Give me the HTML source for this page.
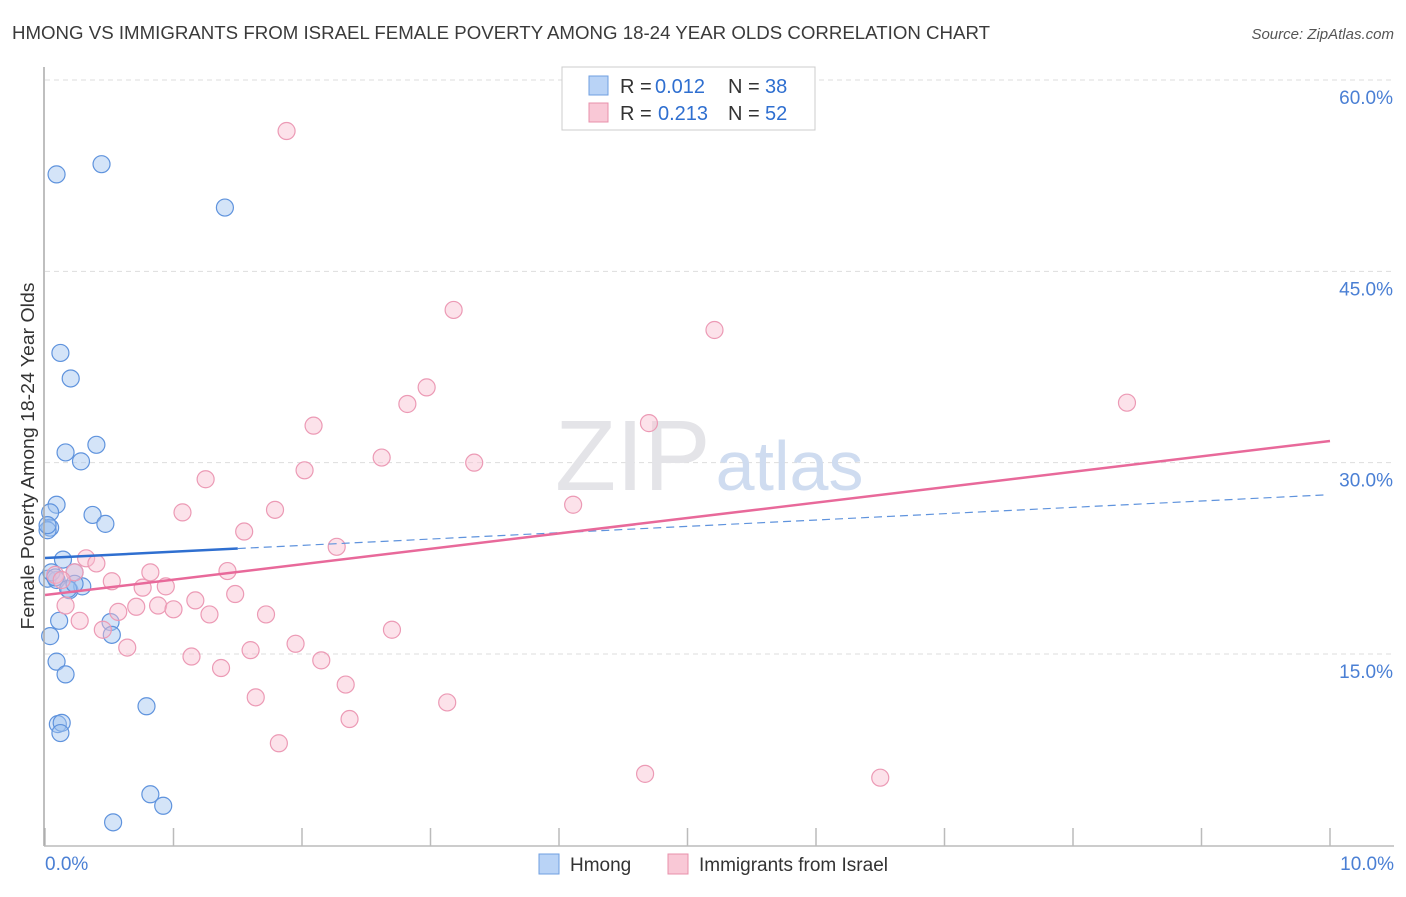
<!DOCTYPE html>
<html><head><meta charset="utf-8"><style>
body{margin:0;background:#fff;font-family:"Liberation Sans",sans-serif}
svg text{font-family:"Liberation Sans",sans-serif}
</style></head><body>
<svg id="chart" width="1406" height="892">
<text x="12" y="39" font-size="18" fill="#3a3a3a" textLength="978" lengthAdjust="spacingAndGlyphs">HMONG VS IMMIGRANTS FROM ISRAEL FEMALE POVERTY AMONG 18-24 YEAR OLDS CORRELATION CHART</text>
<text x="1394" y="39" font-size="15" fill="#555" font-style="italic" text-anchor="end">Source: ZipAtlas.com</text>
<g id="grid"></g>
<text x="555" y="490" font-size="100" fill="#e4e4e8" font-family="Liberation Serif">ZIP<tspan fill="#cfdcf0" font-family="Liberation Sans" font-size="70" dx="5">atlas</tspan></text>
<g id="marks"></g>
<line x1="44" y1="67" x2="44" y2="846" stroke="#aaa" stroke-width="1.5"/>
<line x1="44" y1="846" x2="1394" y2="846" stroke="#bbb" stroke-width="1.5"/>
<text transform="translate(34,456) rotate(-90)" font-size="18" fill="#333" text-anchor="middle" textLength="347" lengthAdjust="spacingAndGlyphs">Female Poverty Among 18-24 Year Olds</text>
<text x="45" y="870" font-size="19" fill="#4a7fd4">0.0%</text>
<text x="1394" y="870" font-size="19" fill="#4a7fd4" text-anchor="end">10.0%</text>
<g>
<rect x="562" y="67" width="253" height="63" fill="#fff" stroke="#ccc"/>
<rect x="589" y="76" width="19" height="19" fill="#b9d3f6" stroke="#6f9fe0"/>
<rect x="589" y="103" width="19" height="19" fill="#f9c8d6" stroke="#e890ab"/>
<text x="620" y="93" font-size="20" fill="#333">R =</text>
<text x="655" y="93" font-size="20" fill="#2f6fd0">0.012</text>
<text x="728" y="93" font-size="20" fill="#333">N =</text>
<text x="765" y="93" font-size="20" fill="#2f6fd0">38</text>
<text x="620" y="120" font-size="20" fill="#333">R =</text>
<text x="658" y="120" font-size="20" fill="#2f6fd0">0.213</text>
<text x="728" y="120" font-size="20" fill="#333">N =</text>
<text x="765" y="120" font-size="20" fill="#2f6fd0">52</text>
</g>
<g>
<rect x="539" y="854" width="20" height="20" fill="#b9d3f6" stroke="#6f9fe0"/>
<text x="570" y="871" font-size="19" fill="#333">Hmong</text>
<rect x="668" y="854" width="20" height="20" fill="#f9c8d6" stroke="#e890ab"/>
<text x="699" y="871" font-size="19" fill="#333">Immigrants from Israel</text>
</g>
</svg>
<script>
const yTicks=[15,30,45,60];
const yTickLabels=["15.0%","30.0%","45.0%","60.0%"];
const xTicks=[0,1,2,3,4,5,6,7,8,9,10];
const hmongX=[0.09,0.44,1.40,0.12,0.20,0.16,0.40,0.28,0.09,0.04,0.37,0.47,0.04,0.02,0.14,0.23,0.02,0.09,0.19,0.29,0.18,0.51,0.11,0.04,0.52,0.09,0.16,0.79,0.10,0.13,0.12,0.82,0.92,0.53,0.02,0.05,0.23,0.08];
const hmongY=[52.6,53.4,50.0,38.6,36.6,30.8,31.4,30.1,26.7,26.1,25.9,25.2,24.9,24.7,22.4,21.4,20.9,20.8,20.0,20.3,20.1,17.5,17.6,16.4,16.5,14.4,13.4,10.9,9.5,9.6,8.8,4.0,3.1,1.8,25.1,21.4,20.5,21.0];
const israelX=[1.88,3.18,5.21,2.97,2.82,8.42,2.09,4.70,2.62,2.02,3.34,1.25,4.11,1.07,1.79,1.55,2.27,0.32,0.40,0.08,0.23,0.82,1.42,0.13,0.52,0.94,0.76,1.48,1.17,0.16,0.88,0.71,1.00,0.57,1.28,1.72,0.27,0.45,2.70,0.64,1.95,1.60,1.14,2.15,1.37,2.34,1.64,3.13,2.37,1.82,4.67,6.50];
const israelY=[56.0,41.972,40.4,35.9,34.6,34.7,32.9,33.1,30.4,29.4,30.0,28.7,26.7,26.1,26.3,24.6,23.4,22.5,22.1,21.2,21.4,21.4,21.5,20.8,20.7,20.3,20.2,19.7,19.2,18.8,18.8,18.7,18.5,18.3,18.1,18.1,17.6,16.9,16.9,15.5,15.8,15.3,14.8,14.5,13.9,12.6,11.6,11.2,9.9,8.0,5.6,5.3];
const hmongTrend=[22.52,27.49];
const israelTrend=[19.62,31.7];
const X=v=>45+v*128.5;
const Y=v=>845.3-v*12.755;
const NS="http://www.w3.org/2000/svg";
const grid=document.getElementById('grid'),marks=document.getElementById('marks');
function mk(tag,attrs,parent){const e=document.createElementNS(NS,tag);for(const k in attrs)e.setAttribute(k,attrs[k]);parent.appendChild(e);return e;}
yTicks.forEach((t,i)=>{
 const l=mk('line',{x1:45,x2:1394,y1:Y(t),y2:Y(t),stroke:'#ddd','stroke-dasharray':'5,4'},grid);
 
 
 const tx=mk('text',{x:1393,y:Y(t)+24,'font-size':19,fill:'#4a7fd4','text-anchor':'end'},grid);
 tx.textContent=yTickLabels[i];
 
 
});
xTicks.forEach(t=>{
 const l=mk('line',{x1:X(t),x2:X(t),y1:828,y2:846,stroke:'#bbb','stroke-width':1.5},grid);
 
 
});
hmongX.forEach((x,i)=>{
 const c=mk('circle',{cx:X(x),cy:Y(hmongY[i]),r:8.5,fill:'rgba(160,195,240,0.45)',stroke:'#5f93dd','stroke-width':1.2},marks);
 
 
});
israelX.forEach((x,i)=>{
 const c=mk('circle',{cx:X(x),cy:Y(israelY[i]),r:8.5,fill:'rgba(248,190,208,0.45)',stroke:'#ec9ab5','stroke-width':1.2},marks);
 
 
});
const hAt=v=>hmongTrend[0]+(hmongTrend[1]-hmongTrend[0])*v/10;
let l1=mk('line',{x1:X(0),y1:Y(hAt(0)),x2:X(1.5),y2:Y(hAt(1.5)),stroke:'#2f6fd0','stroke-width':2.5},marks);


let l2=mk('line',{x1:X(1.5),y1:Y(hAt(1.5)),x2:X(9.97),y2:Y(hAt(9.97)),stroke:'#5f93dd','stroke-width':1.2,'stroke-dasharray':'8,5'},marks);


let l3=mk('line',{x1:X(0),y1:Y(israelTrend[0]),x2:X(10),y2:Y(israelTrend[1]),stroke:'#e8699a','stroke-width':2.5},marks);


</script>
</body></html>
